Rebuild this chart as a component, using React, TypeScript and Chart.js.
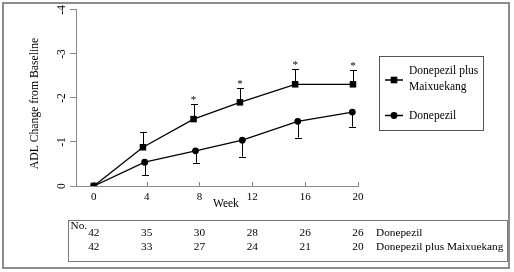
import React, { useEffect, useRef } from 'react';
import { Chart, registerables } from 'chart.js';

Chart.register(...registerables);

// ---- data ----
const weekTicks = [0, 4, 8, 12, 16, 20];
const comboWeeks = [0, 3.72, 7.55, 11.06, 15.24, 19.62];
const comboMean = [0, -0.88, -1.52, -1.9, -2.31, -2.31];
const comboErr = [0, 0.35, 0.34, 0.32, 0.34, 0.32];
const donWeeks = [0, 3.85, 7.7, 11.24, 15.44, 19.57];
const donMean = [0, -0.54, -0.8, -1.04, -1.47, -1.68];
const donErr = [0, 0.3, 0.27, 0.37, 0.37, 0.33];
const significant = [false, false, true, true, true, true];
const nDonepezil = [42, 35, 30, 28, 26, 26];
const nCombo = [42, 33, 27, 24, 21, 20];
const comboLabel = 'Donepezil plus Maixuekang';
const donLabel = 'Donepezil';
const legendComboLines = ['Donepezil plus', 'Maixuekang'];
const yTitle = 'ADL Change from Baseline';
const xTitle = 'Week';

const FONT = "'Liberation Serif', 'Times New Roman', serif";

export default function App() {
  const ref = useRef<HTMLCanvasElement>(null);

  useEffect(() => {
    if (!ref.current) return;

    const overlay = {
      id: 'overlay',
      beforeDatasetsDraw(chart: any) {
        const ctx = chart.ctx;
        const xs = chart.scales.x;
        const ys = chart.scales.y;
        ctx.save();
        // inward x-axis tick marks
        ctx.strokeStyle = '#888';
        ctx.lineWidth = 1;
        ctx.beginPath();
        weekTicks.forEach((w) => {
          const px = Math.round(xs.getPixelForValue(w)) + 0.5;
          ctx.moveTo(px, xs.top);
          ctx.lineTo(px, xs.top - 4);
        });
        ctx.stroke();

        ctx.strokeStyle = '#000';
        ctx.lineWidth = 1;
        const drawBar = (wx: number, m: number, e: number, dir: number) => {
          if (!e) return;
          const px = Math.round(xs.getPixelForValue(wx)) + 0.5;
          const y0 = ys.getPixelForValue(m);
          const y1 = ys.getPixelForValue(m + dir * e);
          ctx.beginPath();
          ctx.moveTo(px, y0);
          ctx.lineTo(px, y1);
          ctx.moveTo(px - 3.5, Math.round(y1) + 0.5);
          ctx.lineTo(px + 3.5, Math.round(y1) + 0.5);
          ctx.stroke();
        };
        comboWeeks.forEach((w, i) => drawBar(w, comboMean[i], comboErr[i], -1));
        donWeeks.forEach((w, i) => drawBar(w, donMean[i], donErr[i], 1));
        // asterisks
        ctx.fillStyle = '#000';
        ctx.font = `11px ${FONT}`;
        ctx.textAlign = 'center';
        ctx.textBaseline = 'alphabetic';
        comboWeeks.forEach((w, i) => {
          if (!significant[i]) return;
          const px = xs.getPixelForValue(w);
          const py = ys.getPixelForValue(comboMean[i] - comboErr[i]);
          ctx.fillText('*', px, py - 1);
        });
        ctx.restore();
      },
      afterDraw(chart: any) {
        const ctx = chart.ctx;
        const xs = chart.scales.x;
        ctx.save();
        // outer frame
        ctx.strokeStyle = '#8c8c8c';
        ctx.lineWidth = 2;
        ctx.strokeRect(3, 3, 506, 265);

        ctx.fillStyle = '#000';
        // y title
        ctx.save();
        ctx.translate(34.5, 103.5);
        ctx.rotate(-Math.PI / 2);
        ctx.font = `11.7px ${FONT}`;
        ctx.textAlign = 'center';
        ctx.textBaseline = 'middle';
        ctx.fillText(yTitle, 0, 0);
        ctx.restore();

        // x title
        ctx.font = `11.5px ${FONT}`;
        ctx.textAlign = 'center';
        ctx.textBaseline = 'middle';
        ctx.fillText(xTitle, xs.getPixelForValue(10), 204);

        // legend
        ctx.strokeStyle = '#555';
        ctx.lineWidth = 1;
        ctx.strokeRect(379.5, 56.5, 104, 74);
        ctx.strokeStyle = '#000';
        ctx.lineWidth = 1.3;
        ctx.beginPath();
        ctx.moveTo(385, 80);
        ctx.lineTo(403, 80);
        ctx.moveTo(385, 115.5);
        ctx.lineTo(403, 115.5);
        ctx.stroke();
        ctx.fillRect(394 - 3.3, 80 - 3.3, 6.6, 6.6);
        ctx.beginPath();
        ctx.arc(394, 115.5, 3.4, 0, Math.PI * 2);
        ctx.fill();
        ctx.font = `11.5px ${FONT}`;
        ctx.textAlign = 'left';
        ctx.textBaseline = 'middle';
        ctx.fillText(legendComboLines[0], 409, 71);
        ctx.fillText(legendComboLines[1], 409, 86.5);
        ctx.fillText(donLabel, 409, 116);

        // table
        ctx.strokeStyle = '#777';
        ctx.lineWidth = 1;
        ctx.strokeRect(68.5, 220.5, 439, 41);
        ctx.font = `11.3px ${FONT}`;
        ctx.textAlign = 'left';
        ctx.textBaseline = 'middle';
        ctx.fillText('No.', 70.5, 226);
        ctx.textAlign = 'center';
        weekTicks.forEach((w, i) => {
          const px = xs.getPixelForValue(w);
          ctx.fillText(String(nDonepezil[i]), px, 233.5);
          ctx.fillText(String(nCombo[i]), px, 247.5);
        });
        ctx.textAlign = 'left';
        ctx.fillText(donLabel, 376, 233.5);
        ctx.fillText(comboLabel, 376, 247.5);
        ctx.restore();
      },
    };

    const chart = new Chart(ref.current, {
      type: 'line',
      data: {
        datasets: [
          {
            label: comboLabel,
            data: comboWeeks.map((w, i) => ({ x: w, y: comboMean[i] })),
            borderColor: '#000',
            backgroundColor: '#000',
            borderWidth: 1.3,
            pointStyle: 'rect',
            pointRadius: 4.6,
            pointBackgroundColor: '#000',
            pointBorderWidth: 0,
            tension: 0,
          },
          {
            label: donLabel,
            data: donWeeks.map((w, i) => ({ x: w, y: donMean[i] })),
            borderColor: '#000',
            backgroundColor: '#000',
            borderWidth: 1.3,
            pointStyle: 'circle',
            pointRadius: 3.4,
            pointBackgroundColor: '#000',
            pointBorderWidth: 0,
            tension: 0,
          },
        ],
      },
      options: {
        responsive: false,
        animation: false,
        devicePixelRatio: 1,
        layout: { padding: { left: 0, top: 9, right: 156, bottom: 66 } },
        plugins: {
          legend: { display: false },
          tooltip: { enabled: false },
        },
        scales: {
          x: {
            type: 'linear',
            min: -1.35,
            max: 20,
            afterBuildTicks: (s: any) => {
              s.ticks = weekTicks.map((v) => ({ value: v }));
            },
            afterFit: (s: any) => {
              s.height = 20;
            },
            grid: { drawOnChartArea: false, drawTicks: false, color: '#888' },
            border: { display: true, color: '#888', width: 1 },
            ticks: {
              color: '#000',
              font: { family: FONT, size: 11 },
              padding: 5,
              maxRotation: 0,
              minRotation: 0,
              autoSkip: false,
            },
          },
          y: {
            type: 'linear',
            reverse: true,
            min: -4,
            max: 0,
            afterFit: (s: any) => {
              s.width = 76;
            },
            grid: { drawOnChartArea: false, drawTicks: true, tickLength: 6, color: '#888' },
            border: { display: true, color: '#888', width: 1 },
            ticks: {
              stepSize: 1,
              color: '#000',
              font: { family: FONT, size: 11.5 },
              padding: 3,
              minRotation: 90,
              maxRotation: 90,
              crossAlign: 'center',
            },
          },
        },
      },
      plugins: [overlay],
    });

    return () => chart.destroy();
  }, []);

  return (
    <div style={{ position: 'absolute', left: 0, top: 0, width: 514, height: 272, background: '#fff' }}>
      <canvas ref={ref} width={514} height={272} style={{ display: 'block', width: 514, height: 272 }} />
    </div>
  );
}
